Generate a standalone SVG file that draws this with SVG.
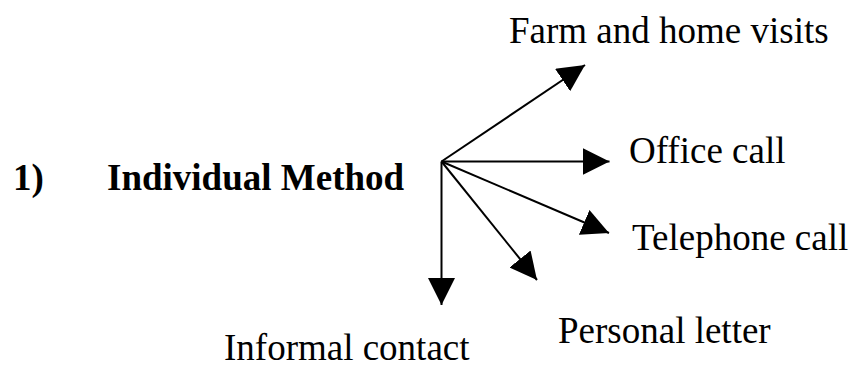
<svg xmlns="http://www.w3.org/2000/svg" width="851" height="369" viewBox="0 0 851 369">
  <style>
    .lbl { font-family: "Liberation Serif", "Times New Roman", serif; font-size: 37px; fill: #000; }
    .title { font-weight: bold; }
    .edge { stroke: #000; stroke-width: 2; fill: none; marker-end: url(#head); }
  </style>
  <defs>
    <marker id="head" viewBox="0 0 27 27" refX="27" refY="13.5" markerWidth="27" markerHeight="27" markerUnits="userSpaceOnUse" orient="auto">
      <path d="M0,0 L27,13.5 L0,27 z" fill="#000"/>
    </marker>
  </defs>
  <rect width="851" height="369" fill="#fff"/>

  <g id="individual-method">
    <text class="lbl title" x="13" y="190">1)</text>
    <text class="lbl title" x="107" y="190">Individual Method</text>
  </g>
  <g id="farm-home-visits">
    <text class="lbl" x="509" y="43">Farm and home visits</text>
  </g>
  <g id="office-call">
    <text class="lbl" x="629" y="163">Office call</text>
  </g>
  <g id="telephone-call">
    <text class="lbl" x="632" y="250">Telephone call</text>
  </g>
  <g id="personal-letter">
    <text class="lbl" x="558" y="343">Personal letter</text>
  </g>
  <g id="informal-contact">
    <text class="lbl" x="224" y="360">Informal contact</text>
  </g>

  <g id="connectors">
    <line class="edge" x1="441.5" y1="161.5" x2="585" y2="65"/>
    <line class="edge" x1="441.5" y1="161.5" x2="609.5" y2="161.5"/>
    <line class="edge" x1="441.5" y1="161.5" x2="609" y2="233"/>
    <line class="edge" x1="441.5" y1="161.5" x2="537" y2="280"/>
    <line class="edge" x1="441.5" y1="161.5" x2="441.5" y2="305"/>
  </g>
</svg>
